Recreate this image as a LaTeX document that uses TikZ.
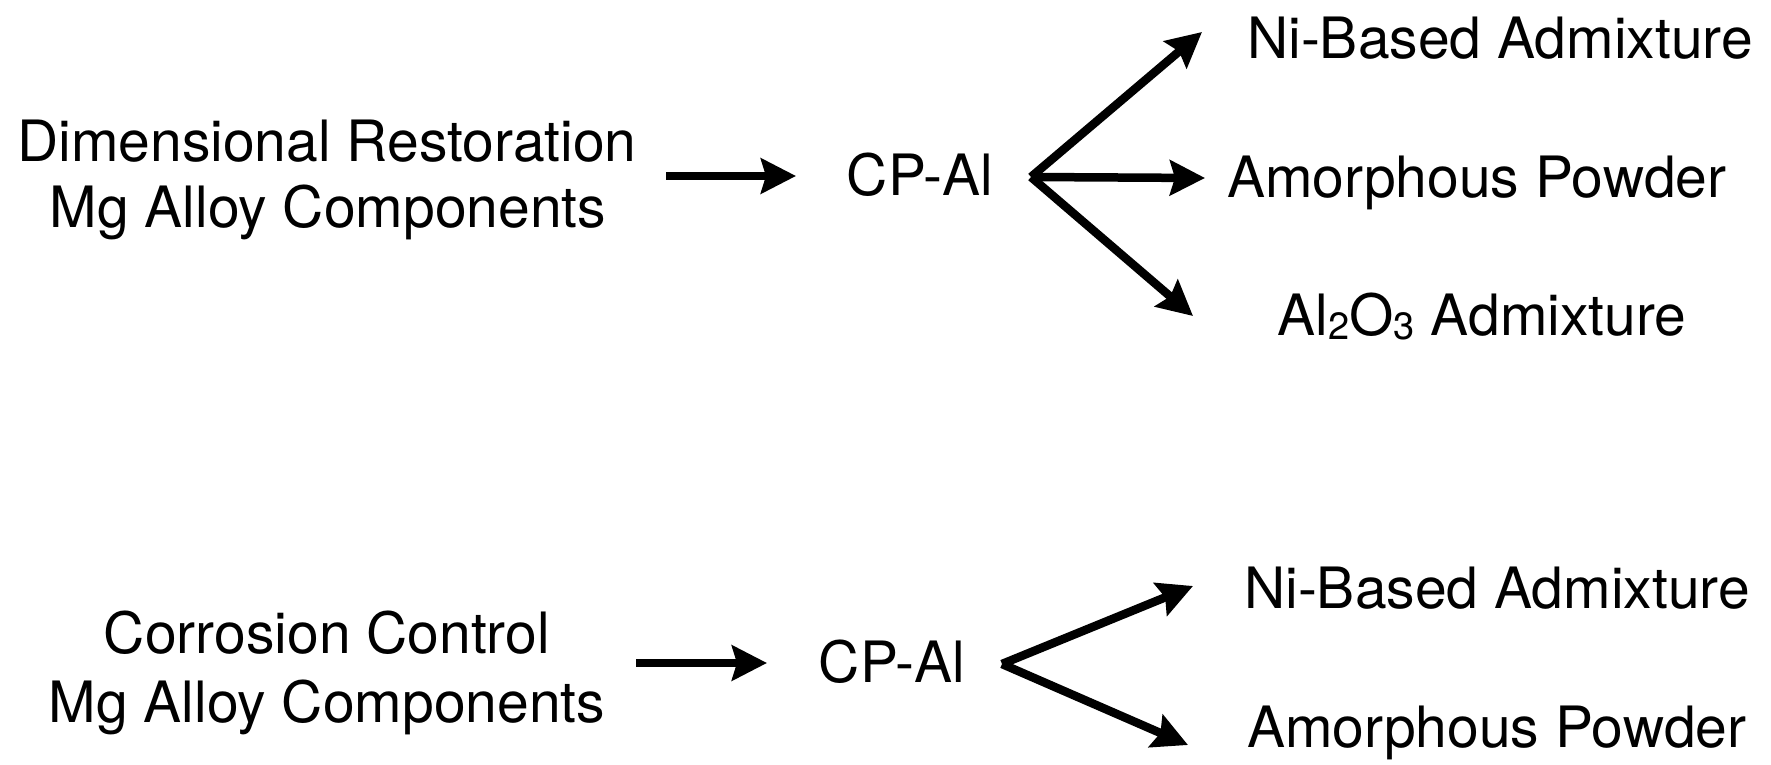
\documentclass[tikz,border=0pt]{standalone}
\usepackage{fontspec}
\setmainfont{TeX Gyre Heros}
\usetikzlibrary{arrows.meta}
\newcommand{\subnum}[1]{\raisebox{-4pt}{\fontsize{38}{40}\selectfont #1}}
\begin{document}
\begin{tikzpicture}[x=1pt,y=-1pt,
  lbl/.style={inner sep=0pt, anchor=base, font=\fontsize{57}{68}\selectfont},
  arr/.style={line width=8.5pt, -{Stealth[length=35pt,width=35pt,inset=5pt]}}]
\useasboundingbox (0,0) rectangle (1771,765);
% top row
\node[lbl] (dimA) at (327,161) {Dimensional Restoration};
\node[lbl] (dimB) at (328,227) {Mg Alloy Components};
\node[lbl] (cpA) at (920,195) {CP-Al};
\node[lbl] (niA) at (1500,59) {Ni-Based Admixture};
\node[lbl] (amA) at (1477,197) {Amorphous Powder};
\node[lbl] (alA) at (1482,335) {Al\subnum{2}O\subnum{3} Admixture};
\coordinate (s1) at (666,176);
\coordinate (e1) at (796,176);
\coordinate (hub1) at (1031,177);
\coordinate (t1a) at (1202,32);
\coordinate (t1b) at (1205,178);
\coordinate (t1c) at (1193,316);
\draw[arr] (s1) -- (e1);
\draw[arr] (hub1) -- (t1a);
\draw[arr] (hub1) -- (t1b);
\draw[arr] (hub1) -- (t1c);
% bottom row
\node[lbl] (coA) at (327,653) {Corrosion Control};
\node[lbl] (coB) at (327,722) {Mg Alloy Components};
\node[lbl] (cpB) at (892,682) {CP-Al};
\node[lbl] (niB) at (1497,608) {Ni-Based Admixture};
\node[lbl] (amB) at (1497,747) {Amorphous Powder};
\coordinate (s2) at (636,663);
\coordinate (e2) at (767,663);
\coordinate (hub2) at (1002,664);
\coordinate (t2a) at (1193,586);
\coordinate (t2b) at (1188,745);
\draw[arr] (s2) -- (e2);
\draw[arr] (hub2) -- (t2a);
\draw[arr] (hub2) -- (t2b);
\end{tikzpicture}
\end{document}
